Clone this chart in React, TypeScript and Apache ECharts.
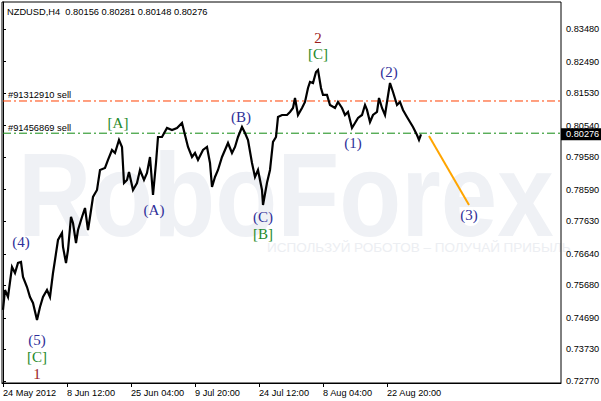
import React, { useEffect, useRef } from 'react';
import * as echarts from 'echarts';

const HEADER = 'NZDUSD,H4  0.80156 0.80281 0.80148 0.80276';

const X_TICKS = [0, 64, 128, 192, 256, 320, 384];
const X_LABELS = ['24 May 2012', '8 Jun 12:00', '25 Jun 04:00', '9 Jul 20:00', '24 Jul 12:00', '8 Aug 04:00', '22 Aug 20:00'];

const Y_TICKS = [0.7277, 0.7373, 0.7469, 0.7568, 0.7664, 0.7763, 0.7859, 0.7958, 0.8054, 0.8153, 0.8249, 0.8348];

const BAR_INDEX = [
  0, 2, 5, 9, 12, 15, 18, 20, 24, 27, 30, 34, 37, 40, 44, 47, 50, 52, 55, 59,
  60, 63, 65, 68, 70, 73, 75, 79, 82, 85, 87, 90, 94, 97, 102, 105, 109, 112, 116, 119,
  121, 124, 126, 130, 134, 137, 141, 144, 147, 150, 153, 155, 159, 164, 169, 174, 179, 182, 185, 189,
  192, 195, 200, 204, 207, 209, 212, 215, 219, 222, 225, 229, 232, 235, 239, 242, 245, 249, 252, 255,
  259, 260, 264, 267, 270, 273, 275, 279, 284, 287, 290, 292, 295, 299, 302, 305, 307, 310, 313, 315,
  318, 320, 324, 327, 332, 335, 339, 342, 345, 349, 352, 355, 359, 362, 364, 367, 370, 374, 376, 379,
  382, 384, 387, 390, 394, 397, 400, 404, 407, 410, 414, 416, 418
];
const PRICE = [
  0.74931, 0.75539, 0.75326, 0.76239, 0.76056, 0.76361, 0.76391, 0.75935, 0.7563, 0.75326, 0.75144, 0.74626, 0.75022, 0.75326, 0.75539, 0.75326, 0.76056, 0.76452, 0.77061, 0.77274,
  0.76848, 0.76361, 0.76756, 0.77761, 0.77578, 0.76969, 0.77365, 0.77761, 0.78034, 0.77365, 0.77761, 0.78369, 0.78582, 0.79191, 0.79252, 0.79495, 0.79799, 0.79708, 0.80104, 0.79891,
  0.78795, 0.78886, 0.7913, 0.78582, 0.78795, 0.79191, 0.78886, 0.79099, 0.79586, 0.7843, 0.79404, 0.80195, 0.80195, 0.80469, 0.80408, 0.80469, 0.80621, 0.80256, 0.79891, 0.79586,
  0.79708, 0.79495, 0.79799, 0.79891, 0.79404, 0.78673, 0.78978, 0.79191, 0.79586, 0.79799, 0.80012, 0.79708, 0.79891, 0.80195, 0.80499, 0.80317, 0.80104, 0.79404, 0.78978, 0.79191,
  0.78582, 0.78126, 0.788, 0.79191, 0.80043, 0.80195, 0.80804, 0.80864, 0.80864, 0.80956, 0.81077, 0.81382, 0.80864, 0.81077, 0.8126, 0.81686, 0.81869, 0.81838, 0.82173, 0.82234,
  0.81686, 0.81473, 0.81473, 0.81169, 0.81077, 0.8126, 0.81077, 0.80864, 0.80956, 0.80469, 0.80621, 0.80773, 0.80864, 0.81169, 0.81017, 0.80651, 0.80864, 0.80956, 0.81382, 0.81077,
  0.80864, 0.8126, 0.81838, 0.81564, 0.81169, 0.8126, 0.81017, 0.80804, 0.80651, 0.80499, 0.80256, 0.80104, 0.80276
];
const LAST_PRICE = 0.80276;

const SELL_TEXT = ['#91312910 sell', '#91456869 sell'];
const SELL_LEVEL = [0.8129, 0.8031];
const SELL_COLOR = ['#ff4000', '#108a10'];

const FORECAST_X = [426, 466];
const FORECAST_Y = [0.80225, 0.78126];

const WAVE_TEXT = ['2', '[C]', '(2)', '(1)', '(B)', '[A]', '(A)', '(C)', '[B]', '(3)', '(4)', '(5)', '[C]', '1'];
const WAVE_X = [315, 315, 386, 350, 238, 115, 151, 260, 260, 466, 18, 34, 34, 34];
const WAVE_Y = [0.83207, 0.82721, 0.82173, 0.80012, 0.80804, 0.80621, 0.77974, 0.77761, 0.77243, 0.77821, 0.77, 0.74018, 0.735, 0.72983];

const X_MIN = -1;
const X_MAX = 558;

const SANS = '"Liberation Sans", Arial, sans-serif';
const SERIF = '"Liberation Serif", "Times New Roman", serif';

function waveColor(t: string) {
  if (t.startsWith('(')) return '#2f2f99';
  if (t.startsWith('[')) return '#1f8a2a';
  return '#9b1c1c';
}

export default function App() {
  const ref = useRef<HTMLDivElement>(null);
  useEffect(() => {
    if (!ref.current) return;
    const chart = echarts.init(ref.current, undefined, { renderer: 'svg' });
    const priceData = BAR_INDEX.map((x, i) => [x, PRICE[i]]);
    const option: any = {
      animation: false,
      backgroundColor: '#ffffff',
      grid: {
        left: 2, right: 40, top: 2, bottom: 18,
        show: true, borderColor: '#000', borderWidth: 1,
        containLabel: false, outerBoundsMode: 'none',
      },
      xAxis: {
        type: 'value', min: X_MIN, max: X_MAX,
        splitLine: { show: false },
        axisLine: { show: true, lineStyle: { color: '#000', width: 1 } },
        axisTick: { show: true, length: 4, lineStyle: { color: '#000' }, customValues: X_TICKS },
        axisLabel: {
          show: true, customValues: X_TICKS, align: 'left', margin: 5,
          color: '#000', fontSize: 9.2, fontFamily: SANS,
          formatter: (v: number) => { const i = X_TICKS.indexOf(Math.round(v)); return i >= 0 ? X_LABELS[i] : ''; },
        },
      },
      yAxis: {
        type: 'value', position: 'right', min: 0.72709, max: 0.84302,
        splitLine: { show: false },
        axisLine: { show: true, lineStyle: { color: '#000', width: 1 } },
        axisTick: { show: true, length: 3, lineStyle: { color: '#000' }, customValues: Y_TICKS },
        axisLabel: {
          show: true, customValues: Y_TICKS, margin: 5,
          color: '#000', fontSize: 9.2, fontFamily: SANS,
          formatter: (v: number) => v.toFixed(5),
        },
      },
      graphic: [
        {
          type: 'text', x: 18, y: 136, z: -10, scaleX: 0.86,
          style: { text: 'RoboForex', fill: '#eff1f5', font: 'bold 118px "Liberation Sans", Arial, sans-serif', textVerticalAlign: 'top', verticalAlign: 'top' },
        },
        {
          type: 'text', x: 267, y: 247, z: -10,
          style: { text: 'ИСПОЛЬЗУЙ РОБОТОВ – ПОЛУЧАЙ ПРИБЫЛЬ', fill: '#eceef2', font: '13.5px "Liberation Sans", Arial, sans-serif', textVerticalAlign: 'middle', verticalAlign: 'middle' },
        },
        {
          type: 'text', x: 7, y: 11.5, z: 10,
          style: { text: HEADER, fill: '#000', font: '9.3px "Liberation Sans", Arial, sans-serif', textVerticalAlign: 'middle', verticalAlign: 'middle' },
        },
      ],
      series: [
        {
          type: 'custom', z: 2, clip: true,
          data: SELL_LEVEL.map((lv, i) => [lv, i]),
          renderItem: (_p: any, api: any) => {
            const lv = api.value(0);
            const i = api.value(1);
            const a = api.coord([X_MIN + 1, lv]);
            const b = api.coord([X_MAX, lv]);
            return {
              type: 'line',
              shape: { x1: a[0], y1: a[1], x2: b[0], y2: b[1] },
              style: { stroke: SELL_COLOR[i], lineWidth: 1, lineDash: [8, 3, 2, 3], fill: null },
            };
          },
          encode: { y: 0 },
        },
        {
          type: 'line', data: priceData, showSymbol: false, symbol: 'none', z: 3,
          lineStyle: { color: '#000', width: 2.2, join: 'miter' },
        },
        {
          type: 'line', data: FORECAST_X.map((x, i) => [x, FORECAST_Y[i]]), showSymbol: false, symbol: 'none', z: 4,
          lineStyle: { color: '#ffa500', width: 2 },
        },
        {
          type: 'custom', z: 5, clip: false,
          data: WAVE_X.map((x, i) => [x, WAVE_Y[i], i]),
          renderItem: (_p: any, api: any) => {
            const i = api.value(2);
            const pt = api.coord([api.value(0), api.value(1)]);
            const t = WAVE_TEXT[i];
            return {
              type: 'text', x: pt[0], y: pt[1],
              style: { text: t, fill: waveColor(t), font: `15px ${SERIF}`, textAlign: 'center', align: 'center', textVerticalAlign: 'middle', verticalAlign: 'middle' },
            };
          },
        },
        {
          type: 'custom', z: 5, clip: false,
          data: SELL_LEVEL.map((lv, i) => [5, lv, i]),
          renderItem: (_p: any, api: any) => {
            const i = api.value(2);
            const pt = api.coord([api.value(0), api.value(1)]);
            return {
              type: 'text', x: pt[0], y: pt[1] - 1,
              style: { text: SELL_TEXT[i], fill: '#000', font: `9.3px ${SANS}`, textAlign: 'left', align: 'left', textVerticalAlign: 'bottom', verticalAlign: 'bottom' },
            };
          },
        },
        {
          type: 'custom', z: 6, clip: false,
          data: [[X_MAX, LAST_PRICE]],
          renderItem: (_p: any, api: any) => {
            const pt = api.coord([api.value(0), api.value(1)]);
            return {
              type: 'group',
              children: [
                { type: 'rect', shape: { x: pt[0], y: pt[1] - 6, width: 40, height: 12 }, style: { fill: '#000' } },
                { type: 'text', x: pt[0] + 5, y: pt[1], style: { text: LAST_PRICE.toFixed(5), fill: '#fff', font: `9.2px ${SANS}`, textAlign: 'left', align: 'left', textVerticalAlign: 'middle', verticalAlign: 'middle' } },
              ],
            };
          },
        },
      ],
    };
    chart.setOption(option);
    return () => chart.dispose();
  }, []);
  return (
    <div style={{ position: 'absolute', left: 0, top: 0, width: 601, height: 401, background: '#fff' }}>
      <div ref={ref} style={{ width: 601, height: 401 }} />
    </div>
  );
}
